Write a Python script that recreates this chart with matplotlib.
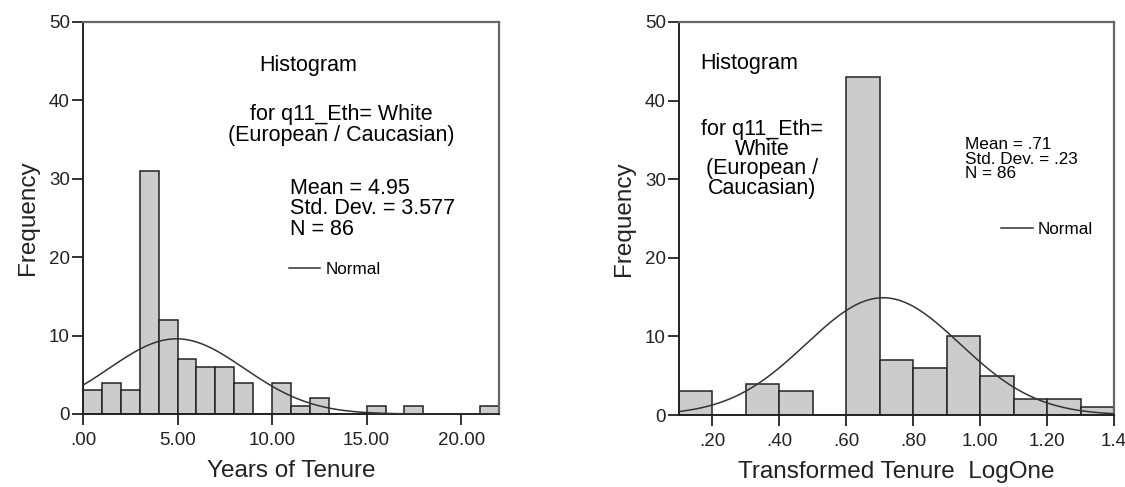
import matplotlib
matplotlib.use("Agg")
import matplotlib.pyplot as plt
from matplotlib.lines import Line2D
import numpy as np

plt.rcParams['font.family'] = ['Liberation Sans', 'DejaVu Sans']

# years of tenure, bins of width 1 from 0 to 22
tenure_edges = np.arange(0, 23, 1)
tenure_counts = [3, 4, 3, 31, 12, 7, 6, 6, 4, 0, 4, 1, 2, 0, 0, 1, 0, 1, 0, 0, 0, 1]
tenure_mean, tenure_sd, tenure_n = 4.95, 3.577, 86
tenure_ticks = [0, 5, 10, 15, 20]
tenure_ticklabels = ['.00', '5.00', '10.00', '15.00', '20.00']

# log-transformed tenure, bins of width 0.1 from 0.1 to 1.4
log_edges = np.round(np.arange(0.1, 1.45, 0.1), 2)
log_counts = [3, 0, 4, 3, 0, 43, 7, 6, 10, 5, 2, 2, 1]
log_mean, log_sd, log_n = 0.71, 0.23, 86
log_ticks = [0.2, 0.4, 0.6, 0.8, 1.0, 1.2, 1.4]
log_ticklabels = ['.20', '.40', '.60', '.80', '1.00', '1.20', '1.4']

freq_ticks = [0, 10, 20, 30, 40, 50]

W, H = 1125, 487
fig = plt.figure(figsize=(W / 100, H / 100), dpi=100)


def px(x, y):
    # pixel position (from top-left) -> figure fraction
    return x / W, 1 - y / H


def histo(ax, edges, counts, mean, sd, n, ticks, ticklabels, xlabel):
    width = edges[1] - edges[0]
    ax.bar(edges[:-1], counts, width=width, align='edge', color='#cccccc',
           edgecolor='#222222', linewidth=1.1, zorder=2)
    xs = np.linspace(edges[0], edges[-1], 400)
    ys = n * width * np.exp(-0.5 * ((xs - mean) / sd) ** 2) / (sd * np.sqrt(2 * np.pi))
    ax.plot(xs, ys, color='#333333', linewidth=1.1, zorder=3)
    ax.set_xlim(edges[0], edges[-1])
    ax.set_ylim(0, 50)
    ax.set_yticks(freq_ticks)
    ax.set_xticks(ticks)
    ax.set_xticklabels(ticklabels)
    ax.tick_params(axis='both', direction='out', length=8, width=1.3,
                   labelsize=13.5, colors='#222222')
    ax.tick_params(axis='y', pad=1.5)
    ax.tick_params(axis='x', pad=5)
    for s in ['left', 'bottom']:
        ax.spines[s].set_color('#222222')
        ax.spines[s].set_linewidth(1.4)
    for s in ['top', 'right']:
        ax.spines[s].set_color('#666666')
        ax.spines[s].set_linewidth(1.6)
    ax.set_xlabel(xlabel, fontsize=17.5, color='#222222', labelpad=8)
    ax.set_ylabel('Frequency', fontsize=17.5, color='#222222', labelpad=7)


ax1 = fig.add_axes([83 / W, 73 / H, 416 / W, 392 / H])
histo(ax1, tenure_edges, tenure_counts, tenure_mean, tenure_sd, tenure_n,
      tenure_ticks, tenure_ticklabels, 'Years of Tenure')

ax2 = fig.add_axes([679 / W, 72 / H, 435 / W, 393 / H])
histo(ax2, log_edges, log_counts, log_mean, log_sd, log_n,
      log_ticks, log_ticklabels, 'Transformed Tenure  LogOne')

# left panel annotations
fig.text(*px(308, 66), 'Histogram', fontsize=15.5, ha='center', va='center')
fig.text(*px(341, 125), 'for q11_Eth= White\n(European / Caucasian)',
         fontsize=15.5, ha='center', va='center', linespacing=1.0)
fig.text(*px(290, 209), 'Mean = 4.95\nStd. Dev. = 3.577\nN = 86',
         fontsize=15.5, ha='left', va='center', linespacing=0.95)
fig.add_artist(Line2D([289 / W, 320 / W], [1 - 268 / H] * 2,
                      color='#333333', linewidth=1.1))
fig.text(*px(326, 269), 'Normal', fontsize=12.3, ha='left', va='center')

# right panel annotations
fig.text(*px(749, 64), 'Histogram', fontsize=15.5, ha='center', va='center')
fig.text(*px(762, 159), 'for q11_Eth=\nWhite\n(European /\nCaucasian)',
         fontsize=15.5, ha='center', va='center', linespacing=0.93)
fig.text(*px(965, 159), 'Mean = .71\nStd. Dev. = .23\nN = 86',
         fontsize=12.3, ha='left', va='center', linespacing=0.98)
fig.add_artist(Line2D([1001 / W, 1033 / W], [1 - 228 / H] * 2,
                      color='#333333', linewidth=1.1))
fig.text(*px(1038, 229), 'Normal', fontsize=12.3, ha='left', va='center')

fig.savefig('out.png', dpi=100)
